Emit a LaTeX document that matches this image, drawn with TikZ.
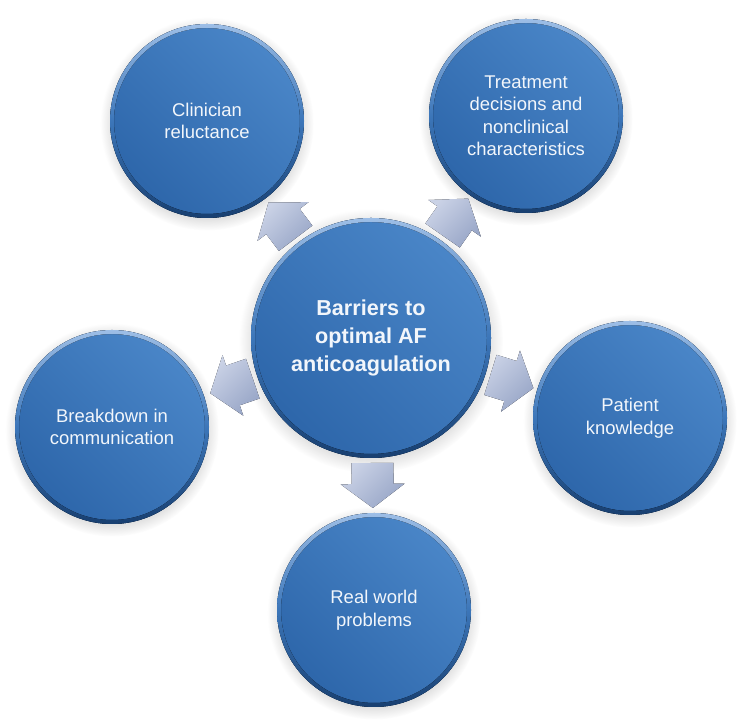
\documentclass[tikz,border=0pt]{standalone}
\usepackage{fontspec}
\setmainfont{Liberation Sans}
\usepackage{tikz}
\usetikzlibrary{calc,shadows}

\definecolor{bluelight}{HTML}{4A86C8}
\definecolor{bluemid}{HTML}{3C76B9}
\definecolor{bluedark}{HTML}{2D66AA}
\definecolor{rimlight}{HTML}{9DBEE6}
\definecolor{rimdark}{HTML}{183F70}
\definecolor{arrowlight}{HTML}{CAD2E6}
\definecolor{arrowdark}{HTML}{98A6C7}
\definecolor{txtwhite}{HTML}{F2F6FB}

\tikzset{
 bubble/.style={circle,inner sep=0pt,minimum size=3.88cm,
  top color=bluelight,bottom color=bluedark,shading angle=-45,
  circular drop shadow={shadow xshift=0pt,shadow yshift=-1.5pt,opacity=0.3},
  text=txtwhite,align=center,font=\fontsize{10.5}{12.8}\selectfont},
 hub/.style={bubble,minimum size=4.8cm,font=\fontsize{12.3}{15.9}\selectfont\bfseries},
 rim/.style={even odd rule,top color=rimlight,bottom color=rimdark,middle color=bluemid},
 arrowfill/.style={top color=arrowlight,bottom color=arrowdark,shading angle=45}
}

% block arrow from the hub towards a satellite
\newcommand{\blockarrow}[2]{%
 \fill[arrowfill] ($(#1)!2.5cm!(#2)!0.42cm!90:(#2)$)
  -- ($(#1)!2.92cm!(#2)!0.42cm!90:(#2)$)
  -- ($(#1)!2.92cm!(#2)!0.64cm!90:(#2)$)
  -- ($(#1)!3.4cm!(#2)$)
  -- ($(#1)!2.92cm!(#2)!0.64cm!-90:(#2)$)
  -- ($(#1)!2.92cm!(#2)!0.42cm!-90:(#2)$)
  -- ($(#1)!2.5cm!(#2)!0.42cm!-90:(#2)$) -- cycle;}

\begin{document}
\begin{tikzpicture}
 \useasboundingbox (0,0) rectangle (14.84,14.44);
 \node[hub] (barrier) at (7.42,7.68) {Barriers to\\optimal AF\\anticoagulation};
 \node[bubble] (clin) at (4.14,12.02) {Clinician\\reluctance};
 \node[bubble] (treat) at (10.52,12.12) {Treatment\\decisions and\\nonclinical\\characteristics};
 \node[bubble] (comm) at (2.24,5.90) {Breakdown in\\communication};
 \node[bubble] (pat) at (12.60,6.08) {Patient\\knowledge};
 \node[bubble] (real) at (7.48,2.24) {Real world\\problems};
 % bevelled rims
 \foreach \n/\r in {barrier/2.4,clin/1.94,treat/1.94,comm/1.94,pat/1.94,real/1.94}
  {\fill[rim] (\n) circle (\r) (\n) circle (\r-0.08);}
 % arrows
 \foreach \s in {clin,treat,comm,pat,real}
  {\blockarrow{barrier}{\s}}
\end{tikzpicture}
\end{document}
